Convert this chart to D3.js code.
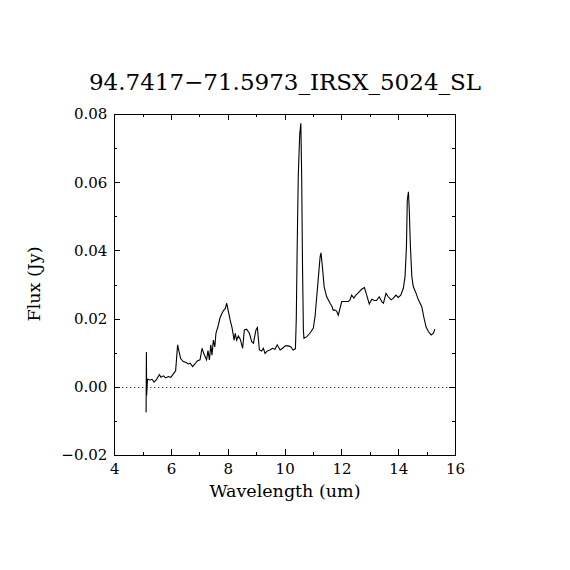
<!DOCTYPE html>
<html>
<head>
<meta charset="utf-8">
<script src="https://cdn.jsdelivr.net/npm/d3@7"></script>
<style>
  body { margin: 0; background: #fff; }
  text { font-family: "DejaVu Serif", serif; fill: #000; }
</style>
</head>
<body>
<div id="chart"></div>
<script>
// Spectrum values
const wavelength = [
  5.12, 5.13, 5.14, 5.17, 5.26, 5.33, 5.40, 5.49, 5.59, 5.64, 5.73, 5.81, 5.90, 5.99,
  6.08, 6.16, 6.23, 6.28, 6.34, 6.43, 6.53, 6.61, 6.67, 6.76, 6.84, 6.92, 7.02, 7.09,
  7.16, 7.25, 7.30, 7.35, 7.40, 7.44, 7.49, 7.54, 7.58, 7.65, 7.72, 7.79, 7.86, 7.91,
  7.96, 8.02, 8.08, 8.15, 8.22, 8.26, 8.31, 8.37, 8.44, 8.52, 8.58, 8.66, 8.76, 8.84,
  8.90, 8.99, 9.04, 9.11, 9.19, 9.25, 9.31, 9.39, 9.48, 9.57, 9.66, 9.74, 9.84, 9.93,
  10.02, 10.13, 10.22, 10.30, 10.38, 10.41, 10.44, 10.48, 10.53, 10.57, 10.60, 10.63,
  10.66, 10.68, 10.78, 10.89, 11.01, 11.07, 11.13, 11.19, 11.25, 11.28, 11.33, 11.39,
  11.48, 11.60, 11.66, 11.71, 11.77, 11.83, 11.89, 11.95, 12.01, 12.13, 12.24, 12.30,
  12.36, 12.44, 12.51, 12.60, 12.71, 12.81, 12.89, 12.98, 13.07, 13.16, 13.24, 13.33,
  13.42, 13.48, 13.57, 13.65, 13.75, 13.83, 13.92, 14.00, 14.09, 14.18, 14.24, 14.29,
  14.32, 14.36, 14.39, 14.43, 14.48, 14.53, 14.63, 14.71, 14.83, 14.91, 14.98, 15.06,
  15.16, 15.24, 15.29
];
const flux = [
  -0.0075, 0.0102, -0.0025, 0.0022, 0.0020, 0.0022, 0.0014, 0.0022, 0.0036, 0.0028, 0.0032, 0.0026, 0.0030, 0.0028,
  0.0038, 0.0047, 0.0123, 0.0103, 0.0082, 0.0074, 0.0071, 0.0067, 0.0069, 0.0059, 0.0067, 0.0076, 0.0079, 0.0113,
  0.0096, 0.0079, 0.0106, 0.0079, 0.0123, 0.0093, 0.0137, 0.0117, 0.0157, 0.0176, 0.0201, 0.0215, 0.0225, 0.0230,
  0.0245, 0.0220, 0.0196, 0.0172, 0.0137, 0.0157, 0.0137, 0.0149, 0.0139, 0.0113, 0.0167, 0.0169, 0.0157, 0.0132,
  0.0128, 0.0167, 0.0174, 0.0108, 0.0105, 0.0113, 0.0098, 0.0105, 0.0108, 0.0113, 0.0110, 0.0123, 0.0108, 0.0113,
  0.0120, 0.0120, 0.0117, 0.0108, 0.0112, 0.0200, 0.0400, 0.0620, 0.0740, 0.0773, 0.0616, 0.0350,
  0.0167, 0.0142, 0.0147, 0.0157, 0.0172, 0.0206, 0.0264, 0.0323, 0.0382, 0.0393, 0.0352, 0.0294,
  0.0264, 0.0245, 0.0237, 0.0225, 0.0225, 0.0222, 0.0210, 0.0230, 0.0250, 0.0250, 0.0250, 0.0255,
  0.0269, 0.0260, 0.0269, 0.0276, 0.0286, 0.0291, 0.0269, 0.0243, 0.0257, 0.0253, 0.0253, 0.0264,
  0.0250, 0.0245, 0.0274, 0.0264, 0.0255, 0.0260, 0.0269, 0.0262, 0.0269, 0.0289, 0.0323, 0.0411,
  0.0548, 0.0572, 0.0518, 0.0411, 0.0323, 0.0294, 0.0274, 0.0255, 0.0235, 0.0201, 0.0176, 0.0162,
  0.0152, 0.0157, 0.0169
];

const xMajor = [4, 6, 8, 10, 12, 14, 16];
const xMinor = [5, 7, 9, 11, 13, 15];
const yMajor = [-0.02, 0.00, 0.02, 0.04, 0.06, 0.08];
const yMinor = [-0.01, 0.01, 0.03, 0.05, 0.07];

const title = "94.7417\u221271.5973_IRSX_5024_SL";

// Set up SVG
const width = 570;
const height = 570;
const margin = {top: 114, right: 115, bottom: 115, left: 114.3};
const plotW = width - margin.left - margin.right;
const plotH = height - margin.top - margin.bottom;

const svg = d3.select("#chart")
  .append("svg")
  .attr("width", width)
  .attr("height", height);

svg.append("rect")
  .attr("width", width)
  .attr("height", height)
  .attr("fill", "#fff");

const g = svg.append("g")
  .attr("transform", `translate(${margin.left},${margin.top})`);

const x = d3.scaleLinear().domain([4, 16]).range([0, plotW]);
const y = d3.scaleLinear().domain([-0.02, 0.08]).range([plotH, 0]);

const fmtY = d3.format(".2f");

// Frame
g.append("rect")
  .attr("width", plotW)
  .attr("height", plotH)
  .attr("fill", "none")
  .attr("stroke", "#000")
  .attr("stroke-width", 1)
  .attr("shape-rendering", "crispEdges");

// Axes (ticks point inward)
function styleAxis(sel) {
  sel.select(".domain").remove();
  sel.selectAll("line").attr("stroke", "#000").attr("shape-rendering", "crispEdges");
  sel.selectAll("text").style("font-family", "DejaVu Serif, serif").style("font-size", "15px");
}

g.append("g")
  .attr("transform", `translate(0,${plotH})`)
  .call(d3.axisBottom(x).tickValues(xMajor).tickSize(-6).tickPadding(8).tickFormat(d3.format("d")))
  .call(styleAxis);

g.append("g")
  .attr("transform", `translate(0,${plotH})`)
  .call(d3.axisBottom(x).tickValues(xMinor).tickSize(-3).tickFormat(""))
  .call(styleAxis);

g.append("g")
  .call(d3.axisTop(x).tickValues(xMajor).tickSize(-6).tickFormat(""))
  .call(styleAxis);

g.append("g")
  .call(d3.axisTop(x).tickValues(xMinor).tickSize(-3).tickFormat(""))
  .call(styleAxis);

g.append("g")
  .call(d3.axisLeft(y).tickValues(yMajor).tickSize(-6).tickPadding(7).tickFormat(fmtY))
  .call(styleAxis);

g.append("g")
  .call(d3.axisLeft(y).tickValues(yMinor).tickSize(-3).tickFormat(""))
  .call(styleAxis);

g.append("g")
  .attr("transform", `translate(${plotW},0)`)
  .call(d3.axisRight(y).tickValues(yMajor).tickSize(-6).tickFormat(""))
  .call(styleAxis);

g.append("g")
  .attr("transform", `translate(${plotW},0)`)
  .call(d3.axisRight(y).tickValues(yMinor).tickSize(-3).tickFormat(""))
  .call(styleAxis);

// Zero line
g.append("line")
  .attr("x1", 0)
  .attr("x2", plotW)
  .attr("y1", Math.round(y(0)) + 0.5)
  .attr("y2", Math.round(y(0)) + 0.5)
  .attr("stroke", "#000")
  .attr("stroke-width", 1)
  .attr("stroke-dasharray", "1,3");

// Spectrum
const points = wavelength.map((w, i) => [w, flux[i]]);

g.append("path")
  .datum(points)
  .attr("fill", "none")
  .attr("stroke", "#000")
  .attr("stroke-width", 1.1)
  .attr("d", d3.line().x(d => x(d[0])).y(d => y(d[1])));

// Title and labels
svg.append("text")
  .attr("x", 285)
  .attr("y", 90)
  .attr("text-anchor", "middle")
  .style("font-size", "23px")
  .text(title);

svg.append("text")
  .attr("x", 285)
  .attr("y", 497)
  .attr("text-anchor", "middle")
  .style("font-size", "17.5px")
  .text("Wavelength (um)");

svg.append("text")
  .attr("transform", "translate(40,284) rotate(-90)")
  .attr("text-anchor", "middle")
  .style("font-size", "17.5px")
  .text("Flux (Jy)");
</script>
</body>
</html>
